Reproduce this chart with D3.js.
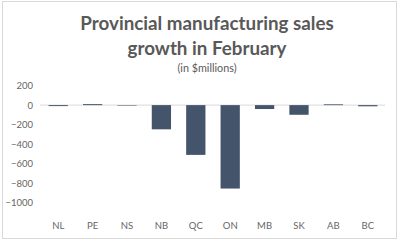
<!DOCTYPE html>
<html><head><meta charset="utf-8">
<script src="https://cdn.jsdelivr.net/npm/d3@7"></script>
<style>html,body{margin:0;padding:0;background:#fff;}</style>
</head><body>
<script>
const categories = ["NL","PE","NS","NB","QC","ON","MB","SK","AB","BC"];
const values = [-10, 10, -5, -248, -510, -855, -40, -99, 8, -12];
const tickValues = [200, 0, -200, -400, -600, -800, -1000];
const titleLines = ["Provincial manufacturing sales", "growth in February"];
const subtitle = "(in $millions)";

const W = 400, H = 242;
const svg = d3.select("body").append("svg").attr("width", W).attr("height", H);
svg.append("rect").attr("x", 2.5).attr("y", 1.5).attr("width", 394).attr("height", 237)
  .attr("fill", "#fff").attr("stroke", "#d9d9d9").attr("stroke-width", 1);

const font = "Lato, 'Open Sans', sans-serif";
svg.selectAll("text.title").data(titleLines).join("text").attr("class","title")
  .attr("x", 207).attr("y", (d,i) => 30 + i*25)
  .attr("text-anchor","middle").attr("font-family", font).attr("font-weight","bold")
  .attr("font-size", 18.8).attr("fill", "#595959").text(d => d);
svg.append("text").attr("x", 207).attr("y", 72).attr("text-anchor","middle")
  .attr("font-family", font).attr("font-size", 10.8).attr("fill", "#595959").text(subtitle);

const x = d3.scaleBand().domain(categories).range([41, 385]).paddingInner(0.44).paddingOuter(0.22);
const y = d3.scaleLinear().domain([-1000, 200]).range([202.7, 85.6]);

const yAxis = d3.axisLeft(y).tickValues(tickValues).tickSize(0).tickPadding(0).tickFormat(d3.format("d"));
const gy = svg.append("g").attr("transform", "translate(33,0)").call(yAxis);
gy.select(".domain").remove();
gy.selectAll("text").attr("font-family", font).attr("font-size", 9.5).attr("fill", "#666");

svg.append("line").attr("x1", 40).attr("x2", 385).attr("y1", y(0)).attr("y2", y(0))
  .attr("stroke", "#d9d9d9").attr("stroke-width", 1);

svg.selectAll("rect.bar").data(values).join("rect").attr("class","bar")
  .attr("x", (d,i) => x(categories[i])).attr("width", x.bandwidth())
  .attr("y", d => y(Math.max(0, d))).attr("height", d => Math.abs(y(d) - y(0)))
  .attr("fill", "#44546a");

const xAxis = d3.axisBottom(x).tickSize(0).tickPadding(0);
const gx = svg.append("g").attr("transform", "translate(0,229)").call(xAxis);
gx.select(".domain").remove();
gx.selectAll("text").attr("font-family", font).attr("font-size", 9.5).attr("fill", "#666").attr("dy", 0);
</script>
</body></html>
